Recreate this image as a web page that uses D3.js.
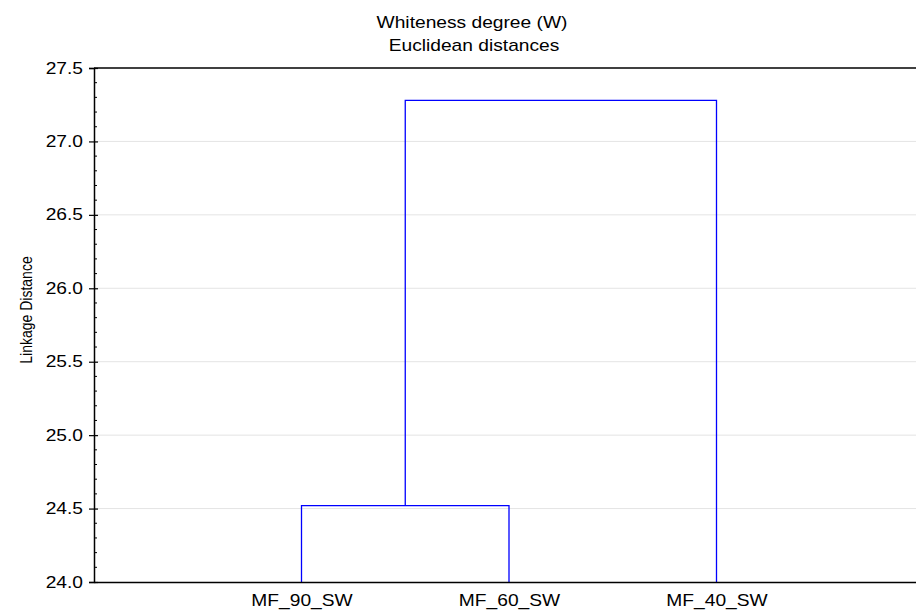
<!DOCTYPE html>
<html>
<head>
<meta charset="utf-8">
<script src="https://cdn.jsdelivr.net/npm/d3@7"></script>
<style>
  body { margin: 0; background: #fff; }
  svg { display: block; font-family: "Liberation Sans", Arial, sans-serif; }
</style>
</head>
<body>
<div id="chart"></div>
<script>
// leaves, in plot order
var leaves = ["MF_90_SW", "MF_60_SW", "MF_40_SW"];
// joins: [left node, right node, linkage distance]; nodes 0..2 are leaves, 3.. are joins
var joins = [
    [0, 1, 24.52],
    [3, 2, 27.28]
];
var yTicks = [24.0, 24.5, 25.0, 25.5, 26.0, 26.5, 27.0, 27.5];
var yMinor = [24.1, 24.2, 24.3, 24.4, 24.6, 24.7, 24.8, 24.9, 25.1, 25.2, 25.3, 25.4,
    25.6, 25.7, 25.8, 25.9, 26.1, 26.2, 26.3, 26.4, 26.6, 26.7, 26.8, 26.9,
    27.1, 27.2, 27.3, 27.4];

var width = 916, height = 612;
var plotLeft = 94, plotTop = 68, plotBottom = 582;
var stretch = 1.2; // text in the original is drawn a bit wide

var svg = d3.select("#chart").append("svg")
    .attr("width", width)
    .attr("height", height);

var xScale = d3.scaleLinear().domain([0, leaves.length + 1]).range([plotLeft, plotLeft + 830]);
var yScale = d3.scaleLinear().domain([24.0, 27.5]).range([plotBottom, plotTop]);

// grid
svg.append("g").selectAll("line")
    .data(yTicks.slice(1, -1))
    .enter().append("line")
    .attr("x1", plotLeft).attr("x2", width)
    .attr("y1", function (d) { return yScale(d); })
    .attr("y2", function (d) { return yScale(d); })
    .attr("stroke", "#e4e4e4")
    .attr("stroke-width", 1);

// titles
svg.append("text")
    .attr("transform", "translate(472,28) scale(" + stretch + ",1)")
    .attr("text-anchor", "middle")
    .attr("font-size", 16).text("Whiteness degree (W)");
svg.append("text")
    .attr("transform", "translate(474,51) scale(" + stretch + ",1)")
    .attr("text-anchor", "middle")
    .attr("font-size", 16).text("Euclidean distances");
svg.append("text")
    .attr("transform", "translate(32," + 310 + ") scale(" + stretch + ",1) rotate(-90)")
    .attr("text-anchor", "middle").attr("font-size", 14)
    .text("Linkage Distance");

// dendrogram links
var nodes = leaves.map(function (d, i) { return {x: i + 1, h: 24.0}; });
var lines = svg.append("g")
    .attr("fill", "none")
    .attr("stroke", "#0000ff")
    .attr("stroke-width", 1.3);
joins.forEach(function (j) {
    var a = nodes[j[0]], b = nodes[j[1]], h = j[2];
    lines.append("path").attr("d",
        "M" + xScale(a.x) + "," + yScale(a.h) +
        "V" + yScale(h) +
        "H" + xScale(b.x) +
        "V" + yScale(b.h));
    nodes.push({x: (a.x + b.x) / 2, h: h});
});

// y axis
var yAxis = d3.axisLeft(yScale).tickValues(yTicks)
    .tickFormat(d3.format(".1f")).tickSize(5).tickPadding(6);
var gy = svg.append("g")
    .attr("transform", "translate(" + plotLeft + ",0)")
    .call(yAxis);
gy.select(".domain").attr("stroke", "#000").attr("stroke-width", 1.5);
gy.selectAll(".tick line").attr("x2", -5).attr("x1", 4).attr("stroke", "#000").attr("stroke-width", 1.2);
gy.selectAll(".tick text")
    .attr("x", 0)
    .attr("transform", "translate(-11,0) scale(" + stretch + ",1)")
    .attr("font-size", 16).attr("fill", "#000")
    .attr("font-family", "Liberation Sans, Arial, sans-serif");
gy.append("g").selectAll("line")
    .data(yMinor)
    .enter().append("line")
    .attr("x1", 0).attr("x2", 3)
    .attr("y1", function (d) { return yScale(d); })
    .attr("y2", function (d) { return yScale(d); })
    .attr("stroke", "#000").attr("stroke-width", 1);

// x axis
var xAxis = d3.axisBottom(xScale)
    .tickValues(leaves.map(function (d, i) { return i + 1; }))
    .tickFormat(function (d) { return leaves[d - 1]; })
    .tickSize(0).tickPadding(13);
var gx = svg.append("g")
    .attr("transform", "translate(0," + plotBottom + ")")
    .call(xAxis);
gx.select(".domain").attr("stroke", "#000").attr("stroke-width", 1.5);
gx.selectAll(".tick text")
    .attr("y", 0)
    .attr("transform", "translate(0,13) scale(" + stretch + ",1)")
    .attr("font-size", 16).attr("fill", "#000")
    .attr("font-family", "Liberation Sans, Arial, sans-serif");

// top frame line
svg.append("line")
    .attr("x1", plotLeft).attr("x2", width)
    .attr("y1", plotTop).attr("y2", plotTop)
    .attr("stroke", "#000").attr("stroke-width", 1.5);
</script>
</body>
</html>
